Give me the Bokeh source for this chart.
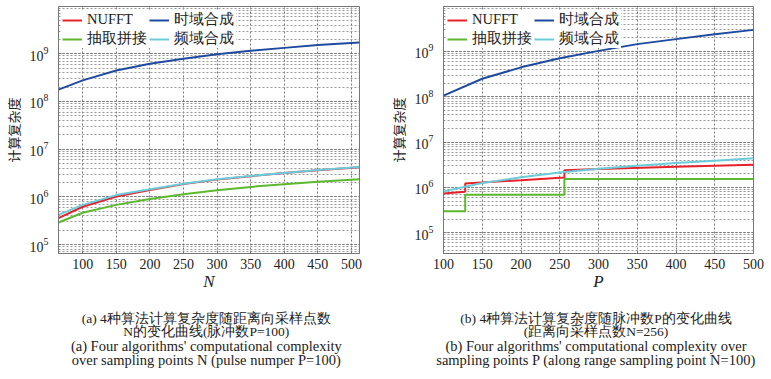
from bokeh.plotting import figure
from bokeh.models import Legend, LegendItem, Label, Range1d
from bokeh.layouts import row, column
from bokeh.embed import file_html
from bokeh.resources import INLINE

# ---------------- data ----------------
# (a) complexity vs range samples N (P = 100)
n_vals = [64, 100, 150, 200, 250, 300, 350, 400, 450, 512]
a_nufft = [3.6e5, 6.2e5, 1.02e6, 1.4e6, 1.85e6, 2.3e6, 2.72e6, 3.15e6, 3.63e6, 4.2e6]
a_time = [1.77e8, 2.77e8, 4.45e8, 6.2e8, 7.9e8, 9.8e8, 1.16e9, 1.33e9, 1.52e9, 1.73e9]
a_decim = [2.9e5, 4.65e5, 6.8e5, 9.0e5, 1.14e6, 1.38e6, 1.62e6, 1.84e6, 2.07e6, 2.35e6]
a_freq = [4.2e5, 6.8e5, 1.09e6, 1.45e6, 1.88e6, 2.35e6, 2.75e6, 3.18e6, 3.67e6, 4.25e6]

# (b) complexity vs pulses P (N = 256)
p_vals = [100, 150, 200, 250, 300, 350, 400, 450, 500]
b_time = [1.06e8, 2.5e8, 4.46e8, 7.1e8, 1.03e9, 1.45e9, 1.87e9, 2.4e9, 2.99e9]
b_freq = [8.2e5, 1.25e6, 1.68e6, 2.15e6, 2.6e6, 3.0e6, 3.45e6, 3.9e6, 4.4e6]
b_nufft_p = [100, 128, 128, 200, 256, 256, 300, 400, 500]
b_nufft = [7.4e5, 8.1e5, 1.23e6, 1.45e6, 1.66e6, 2.41e6, 2.55e6, 2.85e6, 3.16e6]
b_decim_p = [100, 128, 128, 256, 256, 500]
b_decim = [3.0e5, 3.0e5, 6.9e5, 6.9e5, 1.53e6, 1.53e6]

x_ticks = [100, 150, 200, 250, 300, 350, 400, 450, 500]
colors = {"NUFFT": "#e8202a", "时域合成": "#1f4aa0", "抽取拼接": "#5cb82c", "频域合成": "#6ccbd8"}

caps_a = ["(a) 4种算法计算复杂度随距离向采样点数",
          "N的变化曲线(脉冲数P=100)",
          "(a) Four algorithms' computational complexity",
          "over sampling points N (pulse numper P=100)"]
caps_b = ["(b) 4种算法计算复杂度随脉冲数P的变化曲线",
          "(距离向采样点数N=256)",
          "(b) Four algorithms' computational complexity over",
          "sampling points P (along range sampling point N=100)"]

SERIF = "Liberation Serif"
CJK = "Noto Sans CJK SC"
TOP = 6
FRAME_H = 247
BOTTOM = 48
PLOT_H = TOP + FRAME_H + BOTTOM
CAP_H = 77


def panel(width, bl, br, xr, yr, xlabel, series):
    p = figure(width=width, height=PLOT_H, x_range=Range1d(*xr), y_range=Range1d(*yr),
               y_axis_type="log", output_backend="svg", toolbar_location=None,
               min_border_left=bl, min_border_right=br, min_border_top=TOP,
               min_border_bottom=BOTTOM, background_fill_color="white")
    p.outline_line_color = "#777"
    p.xaxis.ticker = x_ticks
    p.xgrid.ticker = p.xaxis[0].ticker
    p.yaxis[0].ticker.desired_num_ticks = 8
    for ax in (p.xaxis[0], p.yaxis[0]):
        ax.axis_line_color = "#777"
        ax.major_tick_in = 3
        ax.major_tick_out = 0
        ax.major_tick_line_color = "#777"
        ax.minor_tick_line_color = None
        ax.major_label_text_font = SERIF
        ax.major_label_text_font_size = "14px"
        ax.major_label_text_color = "#222"
        ax.axis_label_text_font_style = "normal"
        ax.axis_label_text_color = "#222"
    p.xaxis.major_label_standoff = 5
    p.xaxis.axis_label = xlabel
    p.xaxis.axis_label_text_font = SERIF
    p.xaxis.axis_label_text_font_style = "italic"
    p.xaxis.axis_label_text_font_size = "17px"
    p.xaxis.axis_label_standoff = 0
    p.yaxis.major_label_standoff = 6
    p.yaxis.axis_label = "计算复杂度"
    p.yaxis.axis_label_text_font = CJK
    p.yaxis.axis_label_text_font_size = "13px"
    p.yaxis.axis_label_standoff = 4

    p.xgrid.grid_line_color = "#777"
    p.xgrid.grid_line_dash = "2 2"
    p.ygrid.grid_line_color = "#777"
    p.ygrid.grid_line_dash = "2 2"
    p.ygrid.minor_grid_line_color = "#999"
    p.ygrid.minor_grid_line_dash = "2 2"

    rends = {}
    for name in ["NUFFT", "时域合成", "抽取拼接", "频域合成"]:
        xs, ys = series[name]
        rends[name] = p.line(xs, ys, line_color=colors[name], line_width=2)

    order = ["NUFFT", "抽取拼接", "时域合成", "频域合成"]
    legend = Legend(items=[LegendItem(label=n, renderers=[rends[n]]) for n in order],
                    location="top_left", orientation="vertical", ncols=2,
                    background_fill_color="white", background_fill_alpha=1.0,
                    border_line_color=None, padding=7, margin=4, spacing=0,
                    glyph_width=20, glyph_height=14, label_standoff=5,
                    label_width=62, label_height=14,
                    label_text_font=SERIF, label_text_font_size="14.5px",
                    label_text_color="#222")
    p.add_layout(legend, "center")
    return p


def caption(width, cx, caps):
    c = figure(width=width, height=CAP_H, output_backend="svg", toolbar_location=None,
               x_axis_location=None, y_axis_location=None, min_border=0,
               x_range=Range1d(0, 1), y_range=Range1d(0, 1))
    c.outline_line_color = None
    c.xgrid.visible = False
    c.ygrid.visible = False
    ys = [59.7, 47, 33, 19]
    for i, t in enumerate(caps):
        c.add_layout(Label(x=cx, y=ys[i], x_units="screen", y_units="screen", text=t,
                           text_align="center", text_baseline="middle",
                           text_font=SERIF, text_font_size="13.5px" if i < 2 else "14.5px",
                           text_color="#222"))
    return c


p1 = panel(385, 52, 26, (64, 512), (6.5e4, 9.8e9), "N",
           {"NUFFT": (n_vals, a_nufft), "时域合成": (n_vals, a_time),
            "抽取拼接": (n_vals, a_decim), "频域合成": (n_vals, a_freq)})
p2 = panel(385, 53, 17, (100, 500), (3.5e4, 9.8e9), "P",
           {"NUFFT": (b_nufft_p, b_nufft), "时域合成": (p_vals, b_time),
            "抽取拼接": (b_decim_p, b_decim), "频域合成": (p_vals, b_freq)})
c1 = caption(385, 205.8, caps_a)
c2 = caption(385, 210.5, caps_b)

layout = column(row(p1, p2), row(c1, c2))
open("out.html", "w").write(file_html(layout, INLINE))
